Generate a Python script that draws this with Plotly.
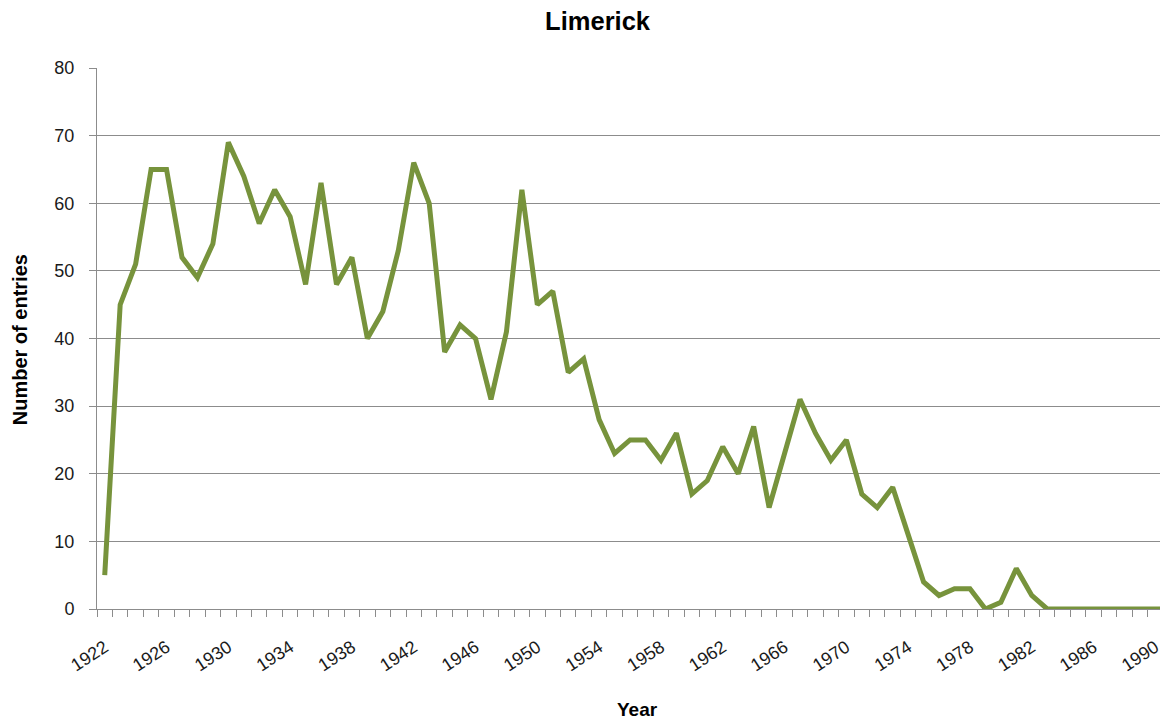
import plotly.graph_objects as go

# Yearly number of entries for Limerick
years = list(range(1922, 1992))
entries = [
    5, 45, 51, 65, 65, 52, 49, 54, 69, 64,      # 1922-1931
    57, 62, 58, 48, 63, 48, 52, 40, 44, 53,     # 1932-1941
    66, 60, 38, 42, 40, 31, 41, 62, 45, 47,     # 1942-1951
    35, 37, 28, 23, 25, 25, 22, 26, 17, 19,     # 1952-1961
    24, 20, 27, 15, 23, 31, 26, 22, 25, 17,     # 1962-1971
    15, 18, 11, 4, 2, 3, 3, 0, 1, 6,            # 1972-1981
    2, 0, 0, 0, 0, 0, 0, 0, 0, 0,               # 1982-1991
]
tick_years = list(range(1922, 1991, 4))
tick_labels = [str(y) for y in tick_years]
y_ticks = list(range(0, 81, 10))

LINE_GREEN = "#77933C"
GRID_GREY = "#8C8C8C"
FONT = "Liberation Sans, Arial, sans-serif"

fig = go.Figure()
fig.add_trace(go.Scatter(
    x=years, y=entries, mode="lines",
    line=dict(color=LINE_GREEN, width=5, shape="linear"),
    hoverinfo="x+y", showlegend=False,
))

fig.update_layout(
    width=1171, height=724,
    margin=dict(l=97, r=9, t=68, b=115),
    paper_bgcolor="white", plot_bgcolor="white",
    font=dict(family=FONT, color="#1a1a1a", size=18),
    title=dict(
        text="<b>Limerick</b>",
        font=dict(family=FONT, size=25.5, color="#000000"),
        xref="container", yref="container",
        x=0.5103, y=1 - 21 / 724, xanchor="center", yanchor="middle",
    ),
    annotations=[
        dict(text="<b>Number of entries</b>", textangle=-90,
             xref="paper", yref="paper", x=-0.0723, y=0.497,
             xanchor="center", yanchor="middle", showarrow=False,
             font=dict(family=FONT, size=20, color="#000000")),
        dict(text="<b>Year</b>",
             xref="paper", yref="paper", x=0.508, y=-0.185,
             xanchor="center", yanchor="middle", showarrow=False,
             font=dict(family=FONT, size=19, color="#000000")),
    ],
)

fig.update_xaxes(
    range=[1921.5, 1990.3],
    tickmode="array", tickvals=tick_years, ticktext=tick_labels,
    tickangle=-33, ticks="", ticklabelstandoff=20,
    showgrid=False, zeroline=False,
    showline=True, linecolor=GRID_GREY, linewidth=1,
    minor=dict(ticks="outside", tick0=1921.5, dtick=1, ticklen=7,
               tickcolor=GRID_GREY, tickwidth=1, showgrid=False),
    tickfont=dict(size=18, color="#1a1a1a"),
)
fig.update_yaxes(
    range=[0, 80], tickmode="array", tickvals=y_ticks,
    ticks="outside", ticklen=7, tickcolor=GRID_GREY, tickwidth=1,
    ticklabelstandoff=11,
    showgrid=True, gridcolor=GRID_GREY, gridwidth=1,
    zeroline=False, showline=True, linecolor=GRID_GREY, linewidth=1,
    tickfont=dict(size=18, color="#1a1a1a"),
)

fig.write_html("out.html")
